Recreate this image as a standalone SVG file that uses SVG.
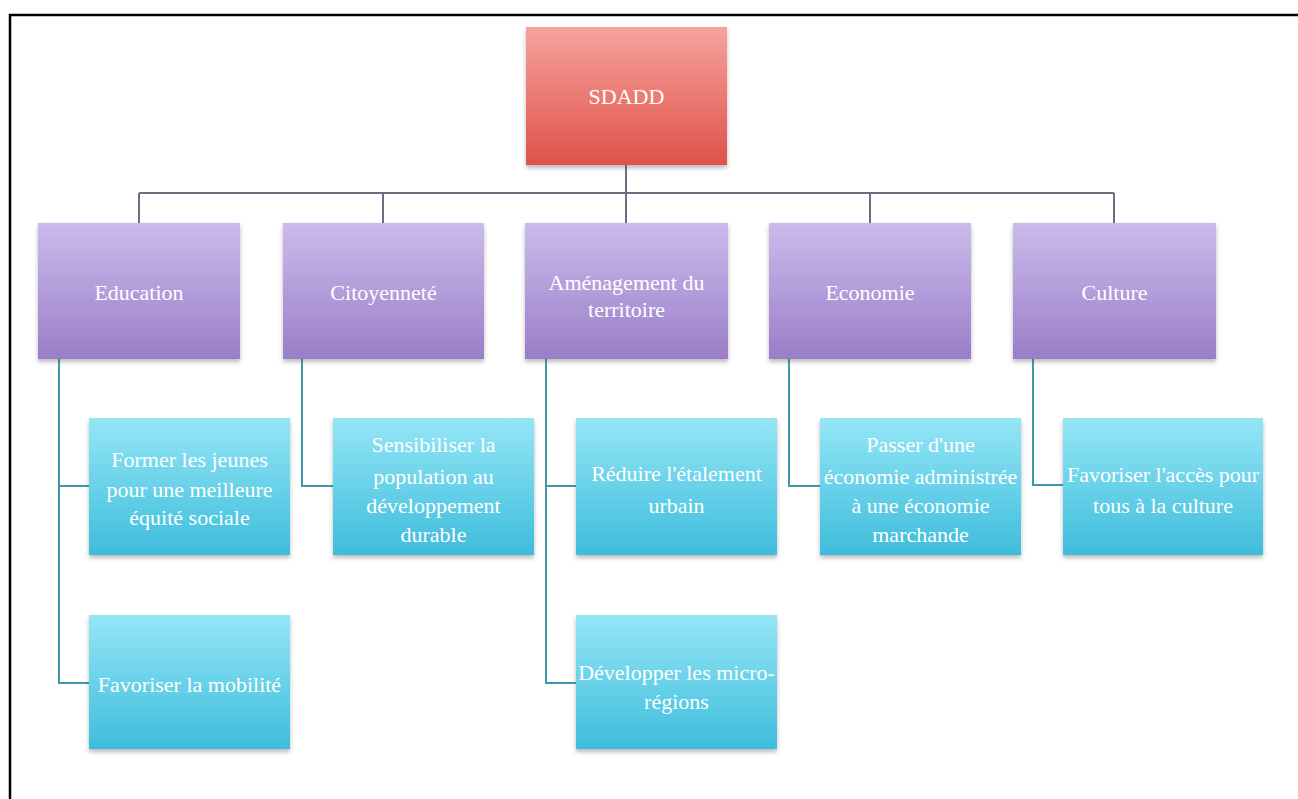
<svg xmlns="http://www.w3.org/2000/svg" width="1298" height="799" viewBox="0 0 1298 799">
<style>
.t{font-family:"Liberation Serif","Times New Roman",serif;font-size:22px;fill:#ffffff;text-anchor:middle}
.c1{fill:none;stroke:#6e6e80;stroke-width:2}
.c2{fill:none;stroke:#3f98a8;stroke-width:2}
</style>
<defs>
<linearGradient id="gr" x1="0" y1="0" x2="0" y2="1"><stop offset="0" stop-color="#f6a39c"/><stop offset="1" stop-color="#df524a"/></linearGradient>
<linearGradient id="gp" x1="0" y1="0" x2="0" y2="1"><stop offset="0" stop-color="#cbbbec"/><stop offset="1" stop-color="#9a7ec8"/></linearGradient>
<linearGradient id="gc" x1="0" y1="0" x2="0" y2="1"><stop offset="0" stop-color="#95e6f6"/><stop offset="1" stop-color="#3ebddc"/></linearGradient>
<filter id="sh" x="-10%" y="-10%" width="120%" height="130%"><feDropShadow dx="0" dy="3" stdDeviation="2" flood-color="#555" flood-opacity="0.4"/></filter>
</defs>
<rect x="0" y="0" width="1298" height="799" fill="#ffffff"/>
<rect x="10" y="15" width="1300" height="800" fill="none" stroke="#000" stroke-width="2.5"/>
<g id="connectors">
<path class="c1" d="M626 165V223M139 193H1114M139 193V223M383 193V223M870 193V223M1114 193V223"/>
<path class="c2" d="M59 359V683H89M59 486H89"/>
<path class="c2" d="M302 359V486H333"/>
<path class="c2" d="M546 359V683H576M546 486H576"/>
<path class="c2" d="M789 359V486H820"/>
<path class="c2" d="M1033 359V485H1063"/>
</g>
<g id="sdadd"><rect x="526" y="27" width="201" height="138" fill="url(#gr)" filter="url(#sh)"/><text class="t" x="626.5" y="104">SDADD</text></g>
<g id="education"><rect x="38" y="223" width="202" height="136" fill="url(#gp)" filter="url(#sh)"/><text class="t" x="139" y="300">Education</text></g>
<g id="citoyennete"><rect x="283" y="223" width="201" height="136" fill="url(#gp)" filter="url(#sh)"/><text class="t" x="383.5" y="300">Citoyenneté</text></g>
<g id="amenagement"><rect x="525" y="223" width="203" height="136" fill="url(#gp)" filter="url(#sh)"/><text class="t" x="626.5" y="290">Aménagement du</text><text class="t" x="626.5" y="317">territoire</text></g>
<g id="economie"><rect x="769" y="223" width="202" height="136" fill="url(#gp)" filter="url(#sh)"/><text class="t" x="870" y="300">Economie</text></g>
<g id="culture"><rect x="1013" y="223" width="203" height="136" fill="url(#gp)" filter="url(#sh)"/><text class="t" x="1114.5" y="300">Culture</text></g>
<g id="former"><rect x="89" y="418" width="201" height="137" fill="url(#gc)" filter="url(#sh)"/><text class="t" x="189.5" y="467">Former les jeunes</text><text class="t" x="189.5" y="497">pour une meilleure</text><text class="t" x="189.5" y="525">équité sociale</text></g>
<g id="mobilite"><rect x="89" y="615" width="201" height="134" fill="url(#gc)" filter="url(#sh)"/><text class="t" x="189.5" y="692">Favoriser la mobilité</text></g>
<g id="sensibiliser"><rect x="333" y="418" width="201" height="137" fill="url(#gc)" filter="url(#sh)"/><text class="t" x="433.5" y="452">Sensibiliser la</text><text class="t" x="433.5" y="484">population au</text><text class="t" x="433.5" y="513">développement</text><text class="t" x="433.5" y="542">durable</text></g>
<g id="reduire"><rect x="576" y="418" width="201" height="137" fill="url(#gc)" filter="url(#sh)"/><text class="t" x="676.5" y="481">Réduire l'étalement</text><text class="t" x="676.5" y="513">urbain</text></g>
<g id="developper"><rect x="576" y="615" width="201" height="134" fill="url(#gc)" filter="url(#sh)"/><text class="t" x="676.5" y="680">Développer les micro-</text><text class="t" x="676.5" y="709">régions</text></g>
<g id="passer"><rect x="820" y="418" width="201" height="137" fill="url(#gc)" filter="url(#sh)"/><text class="t" x="920.5" y="452">Passer d'une</text><text class="t" x="920.5" y="484">économie administrée</text><text class="t" x="920.5" y="513">à une économie</text><text class="t" x="920.5" y="542">marchande</text></g>
<g id="acces"><rect x="1063" y="418" width="200" height="137" fill="url(#gc)" filter="url(#sh)"/><text class="t" x="1163" y="482">Favoriser l'accès pour</text><text class="t" x="1163" y="513">tous à la culture</text></g>
</svg>
